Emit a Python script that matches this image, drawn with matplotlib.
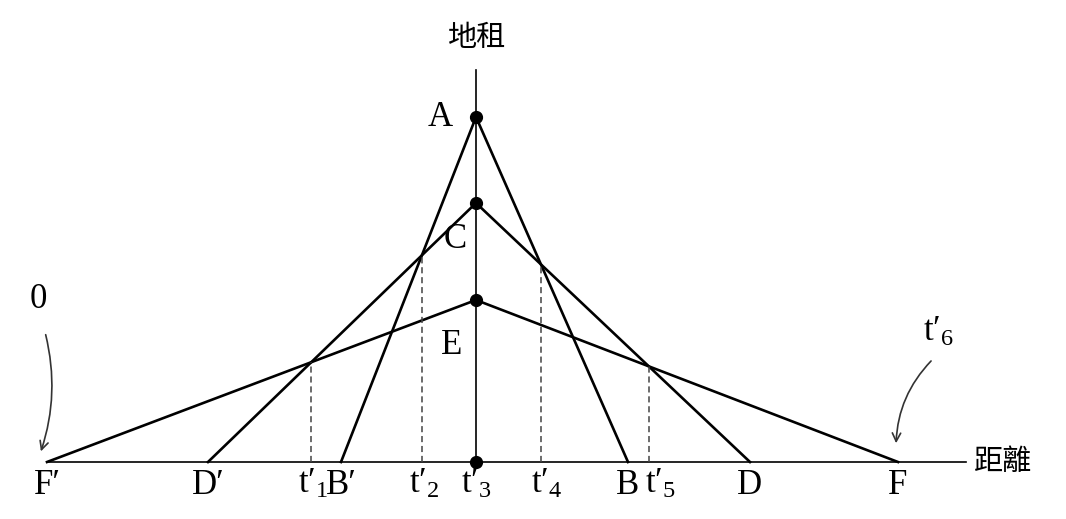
import numpy as np
import matplotlib.pyplot as plt
from matplotlib.patches import FancyArrowPatch

plt.rcParams['mathtext.fontset'] = 'custom'
plt.rcParams['mathtext.rm'] = 'Liberation Serif'
plt.rcParams['mathtext.it'] = 'Liberation Serif:italic'
plt.rcParams['font.family'] = ['Liberation Serif', 'Noto Sans CJK SC']

# rent at the centre for the three curves
peak_names = ['A', 'C', 'E']
peak_heights = [345, 259, 162]
# where each curve reaches zero rent, left and right of the centre
left_ends = [-135, -268, -429]
right_ends = [152, 274, 422]
left_names = ["B′", "D′", "F′"]
right_names = ['B', 'D', 'F']
t_names = [r"$\mathrm{t′}_{%d}$" % i for i in range(1, 7)]


def meet(p1, p2, q1, q2):
    # intersection of line p1-p2 with line q1-q2
    (x1, y1), (x2, y2) = p1, p2
    (x3, y3), (x4, y4) = q1, q2
    d = (x1 - x2) * (y3 - y4) - (y1 - y2) * (x3 - x4)
    a = x1 * y2 - y1 * x2
    b = x3 * y4 - y3 * x4
    return ((a * (x3 - x4) - (x1 - x2) * b) / d,
            (a * (y3 - y4) - (y1 - y2) * b) / d)


fig = plt.figure(figsize=(10.66, 5.19), dpi=100)
ax = fig.add_axes([0, 0, 1, 1])
ax.set_xlim(-476, 590)
ax.set_ylim(-57, 462)
ax.axis('off')

# axes
ax.plot([left_ends[2], 490], [0, 0], color='black', lw=1.2)
ax.plot([0, 0], [0, 392], color='black', lw=1.2)

# rent lines
tops = [(0, h) for h in peak_heights]
lefts = [(x, 0) for x in left_ends]
rights = [(x, 0) for x in right_ends]
for top, l, r in zip(tops, lefts, rights):
    ax.plot([l[0], top[0], r[0]], [l[1], top[1], r[1]], color='black', lw=1.9,
            solid_joinstyle='miter')

ax.plot([0, 0, 0, 0], peak_heights + [0], 'o', color='black', ms=8.5)

# switching points
cuts = [meet(tops[2], lefts[2], tops[1], lefts[1]),
        meet(tops[0], lefts[0], tops[1], lefts[1]),
        meet(tops[0], rights[0], tops[1], rights[1]),
        meet(tops[1], rights[1], tops[2], rights[2])]
for cx, cy in cuts:
    ax.plot([cx, cx], [0, cy], color='#444444', lw=1.1, ls=(0, (4, 2.5)))

fs = 25
label_y = -7
for x, name in zip(left_ends + right_ends, left_names + right_names):
    ax.text(x, label_y, name, fontsize=fs, ha='center', va='top')

t_x = [cuts[0][0] + 2, cuts[1][0] + 2, 0, cuts[2][0] + 6, cuts[3][0] + 12]
for x, name in zip(t_x, t_names[:5]):
    ax.text(x, label_y + 1, name, fontsize=fs, ha='center', va='top')

for name, h, dx, dy in zip(peak_names, peak_heights, [-36, -21, -24], [0, -37, -45]):
    ax.text(dx, h + dy, name, fontsize=fs, ha='center', va='center')

ax.text(0, 424, '地租', fontsize=21, ha='center', va='center', family='Noto Sans CJK SC')
ax.text(527, 0, '距離', fontsize=21, ha='center', va='center', family='Noto Sans CJK SC')

ax.text(-438, 162, '0', fontsize=fs, ha='center', va='center')
ax.text(462, 130, t_names[5], fontsize=fs, ha='center', va='center')

ax.add_patch(FancyArrowPatch((-431, 130), (-436, 8), arrowstyle='->,head_length=6,head_width=3',
                             connectionstyle='arc3,rad=-0.15', color='#333333', lw=1.2))
ax.add_patch(FancyArrowPatch((457, 103), (420, 16), arrowstyle='->,head_length=6,head_width=3',
                             connectionstyle='arc3,rad=0.2', color='#333333', lw=1.2))

fig.savefig('out.png', dpi=100)
